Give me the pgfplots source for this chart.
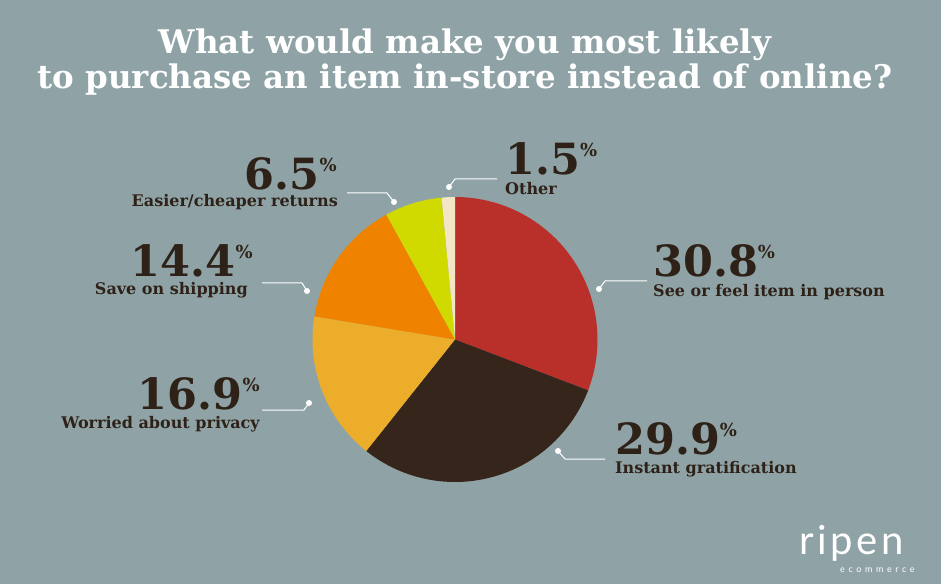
\documentclass[border=0pt]{standalone}
\usepackage{pgfplots}
\pgfplotsset{compat=1.18}
\usepackage{fontspec}
\setmainfont{DejaVu Serif}
\newfontfamily\logofont[LetterSpace=9]{Lato}
\newfontfamily\logosmall[LetterSpace=40]{Lato}
\definecolor{bg}{HTML}{8FA3A6}
\definecolor{cRed}{HTML}{B9302A}
\definecolor{cBrown}{HTML}{36251A}
\definecolor{cPriv}{HTML}{ECAD2A}
\definecolor{cShip}{HTML}{EF8300}
\definecolor{cRet}{HTML}{D0DA00}
\definecolor{cOther}{HTML}{F3E6C4}
\definecolor{txt}{HTML}{2E2118}
\newcommand{\num}[1]{{\fontsize{43}{43}\selectfont\bfseries #1}\raisebox{18pt}{\fontsize{18}{18}\selectfont\bfseries\%}}
\newcommand{\lab}[1]{{\fontsize{16}{16}\selectfont\bfseries #1}}
\begin{document}
\begin{tikzpicture}
\begin{axis}[
  scale only axis, width=941pt, height=584pt,
  xmin=0, xmax=941, ymin=0, ymax=584,
  hide axis, clip=false]
\fill[bg] (axis cs:0,0) rectangle (axis cs:941,584);
% pie: share of respondents (%), clockwise from top
\pgfplotsextra{
  \gdef\cum{90}
  \foreach \v/\c in {30.8/cRed,29.9/cBrown,16.9/cPriv,14.4/cShip,6.5/cRet,1.5/cOther}{
    \pgfmathsetmacro\ea{\cum-3.6*\v}
    \fill[\c] (axis cs:455,244.5) -- ++(\cum:142.5pt) arc[start angle=\cum, end angle=\ea, radius=142.5pt] -- cycle;
    \xdef\cum{\ea}
  }
}
% title
\node[anchor=base, text=white, inner sep=0pt, font=\fontsize{32.5}{32.5}\selectfont\bfseries] at (axis cs:465,530) {What would make you most likely};
\node[anchor=base, text=white, inner sep=0pt, font=\fontsize{32.5}{32.5}\selectfont\bfseries] at (axis cs:465,495) {to purchase an item in-store instead of online?};
% leaders
\begin{scope}[white, line width=1pt]
\draw (axis cs:599,295) -- (axis cs:605,303) -- (axis cs:647,303);
\fill (axis cs:599,295) circle[radius=3pt];
\draw (axis cs:558,133) -- (axis cs:565,125) -- (axis cs:605,125);
\fill (axis cs:558,133) circle[radius=3pt];
\draw (axis cs:309,181) -- (axis cs:304,174) -- (axis cs:262,174);
\fill (axis cs:309,181) circle[radius=3pt];
\draw (axis cs:262,301) -- (axis cs:302,301) -- (axis cs:307,293);
\fill (axis cs:307,293) circle[radius=3pt];
\draw (axis cs:347,391) -- (axis cs:387,391) -- (axis cs:394,382);
\fill (axis cs:394,382) circle[radius=3pt];
\draw (axis cs:449,397) -- (axis cs:455,405) -- (axis cs:497,405);
\fill (axis cs:449,397) circle[radius=3pt];
\end{scope}
% labels
\begin{scope}[text=txt, inner sep=0pt]
\node[anchor=base west] at (axis cs:653,307) {\num{30.8}};
\node[anchor=base west] at (axis cs:653,287) {\lab{See or feel item in person}};
\node[anchor=base west] at (axis cs:615,130) {\num{29.9}};
\node[anchor=base west] at (axis cs:615,111) {\lab{Instant gratification}};
\node[anchor=base east] at (axis cs:260,175) {\num{16.9}};
\node[anchor=base east] at (axis cs:260,156) {\lab{Worried about privacy}};
\node[anchor=base east] at (axis cs:253,307) {\num{14.4}};
\node[anchor=base east] at (axis cs:248,289) {\lab{Save on shipping}};
\node[anchor=base east] at (axis cs:337,394) {\num{6.5}};
\node[anchor=base east] at (axis cs:338,377) {\lab{Easier/cheaper returns}};
\node[anchor=base west] at (axis cs:505,409) {\num{1.5}};
\node[anchor=base west] at (axis cs:505,389) {\lab{Other}};
\end{scope}
% logo
\node[anchor=base west, text=white, inner sep=0pt, font=\logofont\fontsize{40}{40}\selectfont] at (axis cs:799,30) {ripen};
\node[anchor=base west, text=white, inner sep=0pt, font=\logosmall\fontsize{9}{9}\selectfont] at (axis cs:840,12) {ecommerce};
\end{axis}
\end{tikzpicture}
\end{document}
